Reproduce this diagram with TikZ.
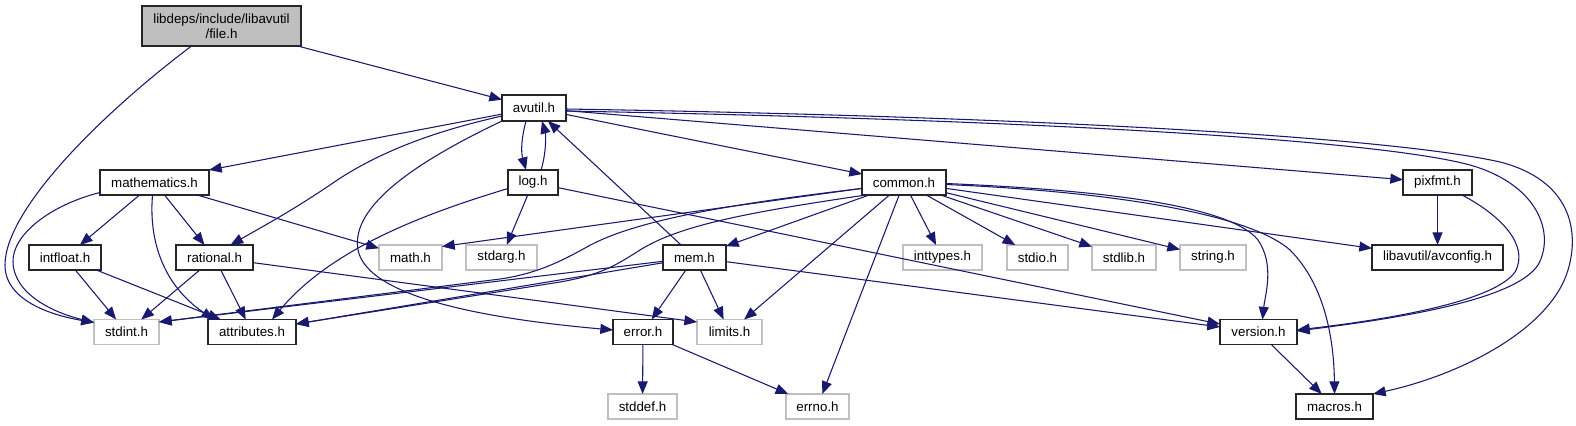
\documentclass[tikz,border=0pt]{standalone}
\usepackage{fontspec}
\setmainfont{Liberation Sans}
\usetikzlibrary{arrows.meta,calc}
\definecolor{edgec}{HTML}{191970}
\definecolor{grey75}{HTML}{BFBFBF}
\begin{document}
\begin{tikzpicture}[x=0.75pt,y=-0.75pt,
  every node/.style={font=\fontsize{10pt}{11.25pt}\selectfont, inner sep=0pt, outer sep=0pt, rectangle, minimum height=25*0.75pt},
  doc/.style={draw=black!85, line width=0.85pt, fill=white, minimum width=#1*0.75pt},
  ext/.style={draw=grey75, line width=0.85pt, fill=white, minimum width=#1*0.75pt},
  dep/.style={draw=edgec, line width=0.8pt, -{Triangle[length=9.5pt,width=7.5pt]}}]
\path[fill=white] (0,0) rectangle (1576,425);
\useasboundingbox (0,0) rectangle (1576,425);
% nodes
\node[doc=159, fill=grey75, minimum height=40*0.75pt, align=center] (file) at (221.5,26) {libdeps/include/libavutil\\/file.h};
\node[doc=64, minimum height=26*0.75pt] (avutil) at (534,108) {avutil.h};
\node[doc=109] (mathematics) at (154.5,182.5) {mathematics.h};
\node[doc=50] (log) at (533,182.5) {log.h};
\node[doc=84] (common) at (904,182.5) {common.h};
\node[doc=69] (pixfmt) at (1437.5,182.5) {pixfmt.h};
\node[doc=72] (intfloat) at (65,257.5) {intfloat.h};
\node[doc=77] (rational) at (214.5,257.5) {rational.h};
\node[ext=63] (math) at (410.5,257.5) {math.h};
\node[ext=71] (stdarg) at (501.5,257.5) {stdarg.h};
\node[doc=63] (mem) at (694.5,257.5) {mem.h};
\node[ext=79] (inttypes) at (942.5,257.5) {inttypes.h};
\node[ext=61] (stdio) at (1037.5,257.5) {stdio.h};
\node[ext=64] (stdlib) at (1124,257.5) {stdlib.h};
\node[ext=66] (string) at (1213,257.5) {string.h};
\node[doc=131] (avconfig) at (1437.5,257.5) {libavutil/avconfig.h};
\node[ext=65] (stdint) at (126.5,332) {stdint.h};
\node[doc=88] (attributes) at (252,332) {attributes.h};
\node[doc=60] (error) at (643,332) {error.h};
\node[ext=65] (limits) at (729.5,332) {limits.h};
\node[doc=77] (version) at (1258.5,332) {version.h};
\node[ext=69] (stddef) at (642.5,406.5) {stddef.h};
\node[ext=63] (errno) at (817.5,406.5) {errno.h};
\node[doc=77] (macros) at (1334.5,406.5) {macros.h};
% edges: file.h
\draw[dep] (file) -- (avutil);
\draw[dep] ($(file.south)+(-30,0)$) .. controls (100,115) and (5,210) .. (5,265) .. controls (5,300) and (50,315) .. ($(stdint.north west)+(0,3)$);
% avutil.h
\draw[dep] (avutil) -- (mathematics.north east);
\draw[dep] ($(avutil.west)+(0,8)$) .. controls (440,130) and (380,150) .. (330,185) .. controls (290,212) and (260,228) .. ($(rational.north)+(16,0)$);
\draw[dep] (avutil.south west) .. controls (420,160) and (350,205) .. (358,250) .. controls (368,300) and (500,320) .. ($(error.west)+(0,-2)$);
\draw[dep] ($(avutil.south)+(-8,0)$) .. controls (521,140) and (521,152) .. ($(log.north)+(-7,0)$);
\draw[dep] (avutil) -- (common);
\draw[dep] (avutil) -- (pixfmt);
\draw[dep] ($(avutil.east)+(0,3)$) .. controls (1000,119) and (1370,138) .. (1470,165) .. controls (1540,185) and (1555,235) .. (1538,265) .. controls (1515,300) and (1400,318) .. ($(version.east)+(0,-1)$);
\draw[dep] ($(avutil.east)+(0,1)$) .. controls (1000,116) and (1380,135) .. (1500,162) .. controls (1570,180) and (1580,230) .. (1568,270) .. controls (1550,330) and (1460,375) .. (macros.north east);
% log.h
\draw[dep] ($(log.north)+(8,0)$) .. controls (546,155) and (546,135) .. ($(avutil.south)+(8,0)$);
\draw[dep] (log) -- (stdarg);
\draw[dep] ($(log.west)+(0,6)$) .. controls (420,215) and (330,250) .. ($(attributes.north)+(20,0)$);
\draw[dep] (log) -- (version);
% mathematics.h
\draw[dep] ($(mathematics.west)+(0,10)$) .. controls (50,205) and (12,235) .. (13,262) .. controls (14,295) and (55,313) .. ($(stdint.north west)+(0,3)$);
\draw[dep] (mathematics) -- (intfloat);
\draw[dep] ($(mathematics.south)+(-2,0)$) .. controls (148,250) and (170,290) .. ($(attributes.north west)+(6,0)$);
\draw[dep] (mathematics) -- (rational);
\draw[dep] (mathematics) -- (math);
% intfloat.h, rational.h
\draw[dep] (intfloat) -- (stdint);
\draw[dep] (intfloat) -- (attributes);
\draw[dep] (rational) -- (stdint);
\draw[dep] (rational) -- (attributes);
\draw[dep] (rational) -- ($(limits.west)+(0,-10)$);
% common.h
\draw[dep] (common) -- ($(math.east)+(0,-11)$);
\draw[dep] ($(common.west)+(0,6)$) .. controls (720,205) and (630,222) .. (585,248) .. controls (560,262) and (535,274) .. (500,279) -- ($(stdint.east)+(0,-10)$);
\draw[dep] ($(common.south west)+(4,0)$) .. controls (750,212) and (680,225) .. (640,250) .. controls (615,266) and (600,275) .. (560,282) -- ($(attributes.east)+(0,-8)$);
\draw[dep] (common) -- (mem);
\draw[dep] (common) -- (limits);
\draw[dep] (common) -- (errno);
\draw[dep] (common) -- (inttypes);
\draw[dep] (common) -- (stdio);
\draw[dep] (common) -- (stdlib);
\draw[dep] (common) -- (string);
\draw[dep] (common) -- (avconfig);
\draw[dep] ($(common.east)+(0,1)$) .. controls (1100,190) and (1230,205) .. (1258,240) .. controls (1275,265) and (1265,295) .. ($(version.north)+(4,0)$);
\draw[dep] ($(common.east)+(0,2)$) .. controls (1120,192) and (1250,215) .. (1290,250) .. controls (1325,285) and (1334,340) .. (macros.north);
% mem.h
\draw[dep] (mem) -- (avutil);
\draw[dep] (mem) -- ($(stdint.east)+(0,-10)$);
\draw[dep] (mem) -- ($(attributes.east)+(0,-8)$);
\draw[dep] (mem) -- (error);
\draw[dep] (mem) -- (limits);
\draw[dep] (mem) -- (version);
% error.h
\draw[dep] (error) -- (stddef);
\draw[dep] (error) -- (errno);
% pixfmt.h
\draw[dep] (pixfmt) -- (avconfig);
\draw[dep] ($(pixfmt.south east)+(-10,0)$) .. controls (1500,215) and (1530,245) .. (1515,272) .. controls (1495,300) and (1400,318) .. ($(version.east)+(0,-2)$);
% version.h
\draw[dep] (version) -- (macros);
\end{tikzpicture}
\end{document}
